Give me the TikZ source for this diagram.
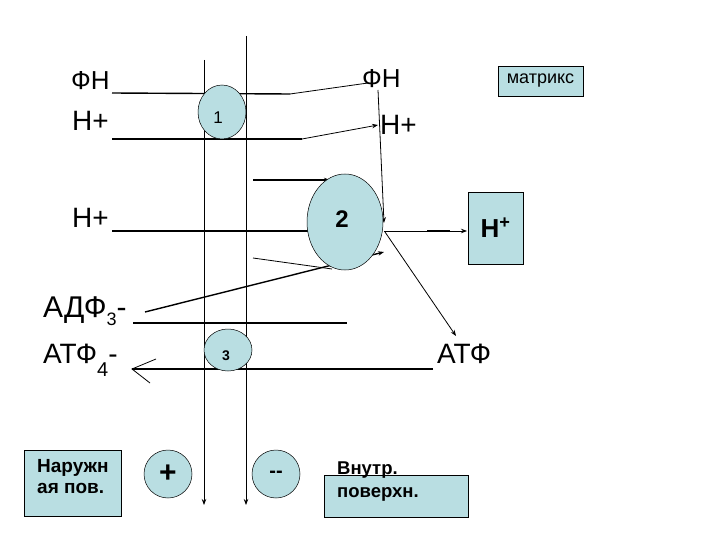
\documentclass[tikz,border=0pt]{standalone}
\usepackage{fontspec}
\setmainfont{Liberation Sans}
\usetikzlibrary{arrows.meta,shapes.geometric}
\definecolor{lblue}{HTML}{B9DEE2}
\newcommand{\lowsub}[3]{\raisebox{-#2pt}{\fontsize{#1}{#1}\selectfont #3}}
\begin{document}
\begin{tikzpicture}[x=1pt,y=-1pt,
  thick line/.style={line width=1.4pt},
  thin line/.style={line width=0.8pt},
  tip/.style={-{Stealth[length=6pt,width=4.5pt]}},
  bubble/.style={draw,line width=0.5pt,fill=lblue,ellipse,inner sep=0pt},
  infobox/.style={draw,line width=0.5pt,fill=lblue},
  midtxt/.style={font=\fontsize{26}{28}\selectfont},
  bigtxt/.style={font=\fontsize{28}{30}\selectfont},
  lbl/.style={inner sep=0pt,anchor=base west}]
\useasboundingbox (0,0) rectangle (720,540);
\fill[white] (0,0) rectangle (720,540);
% membrane
\coordinate (m1t) at (204,60); \coordinate (m1b) at (204,505);
\coordinate (m2t) at (246,36); \coordinate (m2b) at (246,505);
\draw[thin line,tip] (m1t) -- (m1b);
\draw[thin line,tip] (m2t) -- (m2b);
% labels left
\node[lbl,midtxt] (fn1) at (71,90) {ФН};
\node[lbl,bigtxt] (h1) at (72,131) {Н+};
\node[lbl,bigtxt] (h2) at (72,227) {Н+};
\node[lbl,font=\fontsize{30}{32}\selectfont] (adf) at (43,317) {АДФ\lowsub{18}{8}{3}-};
\node[lbl,bigtxt] (atf4) at (43,363) {АТФ\lowsub{20}{13}{4}-};
% labels right
\node[lbl,midtxt] (fn2) at (362,88) {ФН};
\node[lbl,bigtxt] (h3) at (380,135) {Н+};
\node[lbl,bigtxt] (atf) at (437,363) {АТФ};
% lines row 1
\coordinate (a1) at (112,93); \coordinate (a2) at (290,94); \coordinate (a3) at (368,83);
\draw[thick line] (a1) -- (a2);
\draw[thin line] (a2) -- (a3);
\coordinate (b1) at (112,139); \coordinate (b2) at (302,139); \coordinate (b3) at (378,125);
\draw[thick line] (b1) -- (b2);
\draw[thin line,tip] (b2) -- (b3);
% vertical from FN right to ellipse 2
\coordinate (v1) at (378,90); \coordinate (v2) at (384,223);
\draw[thin line,tip] (v1) -- (v2);
% row H+ 2
\coordinate (c1) at (112,231); \coordinate (c2) at (308,231);
\draw[thick line] (c1) -- (c2);
\coordinate (d1) at (253,180); \coordinate (d2) at (330,180);
\draw[thick line,tip] (d1) -- (d2);
\coordinate (e1) at (253,258); \coordinate (e2) at (332,269);
\draw[thin line] (e1) -- (e2);
% ADF arrow
\coordinate (f1) at (145,312); \coordinate (f2) at (384,252);
\draw[thick line,tip] (f1) -- (f2);
\coordinate (g1) at (133,323); \coordinate (g2) at (347,323);
\draw[thick line] (g1) -- (g2);
% ATF line back
\coordinate (k1) at (433,369); \coordinate (k2) at (132,369);
\draw[thick line] (k1) -- (k2);
\coordinate (k3) at (156,359); \coordinate (k4) at (150,383);
\draw[thin line] (k3) -- (k2) -- (k4);
% ellipse 2 outputs
\coordinate (p1) at (384,231); \coordinate (p2) at (427,231); \coordinate (p3) at (450,231); \coordinate (p4) at (467,231);
\draw[thin line] (p1) -- (p2);
\draw[line width=2.4pt] (p2) -- (p3);
\draw[thin line,tip] (p3) -- (p4);
\coordinate (q1) at (385,232); \coordinate (q2) at (456,336);
\draw[thin line,tip] (q1) -- (q2);
% bubbles
\node[bubble,minimum width=48pt,minimum height=54pt] (s1) at (222,112) {};
\node[font=\fontsize{17}{18}\selectfont] (t1) at (218,118) {1};
\node[bubble,minimum width=76pt,minimum height=96pt] (s2) at (345,222) {};
\node[font=\bfseries\fontsize{24}{26}\selectfont] (t2) at (342,219) {2};
\node[bubble,minimum width=48pt,minimum height=42pt] (s3) at (228,350) {};
\node[font=\bfseries\fontsize{14}{14}\selectfont] (t3) at (226,356) {3};
\node[bubble,minimum width=48pt,minimum height=48pt,font=\bfseries\fontsize{30}{30}\selectfont] (plus) at (168,474) {+};
\node[bubble,minimum width=48pt,minimum height=48pt,font=\bfseries\fontsize{20}{20}\selectfont] (minus) at (276,474) {-{}-};
% boxes
\node[infobox,minimum width=85pt,minimum height=30pt,font=\fontsize{18}{18}\selectfont] (matr) at (540.5,81) {матрикс};
\node[infobox,minimum width=55pt,minimum height=72pt,font=\bfseries\fontsize{26}{28}\selectfont] (hbox) at (495.5,228) {H\textsuperscript{+}};
\node[infobox,minimum width=97pt,minimum height=66pt,anchor=north west] (narbox) at (24,450) {};
\node[inner sep=0pt,anchor=north west,font=\bfseries\fontsize{19}{21}\selectfont,align=left] (nar) at (37,459) {Наружн\\ая пов.};
\node[infobox,minimum width=144pt,minimum height=42pt,anchor=north west] (vnbox) at (324,475) {};
\node[inner sep=0pt,anchor=north west,font=\bfseries\fontsize{18.5}{23}\selectfont,align=left] (vn) at (337,462) {Внутр.\\поверхн.};
\end{tikzpicture}
\end{document}
